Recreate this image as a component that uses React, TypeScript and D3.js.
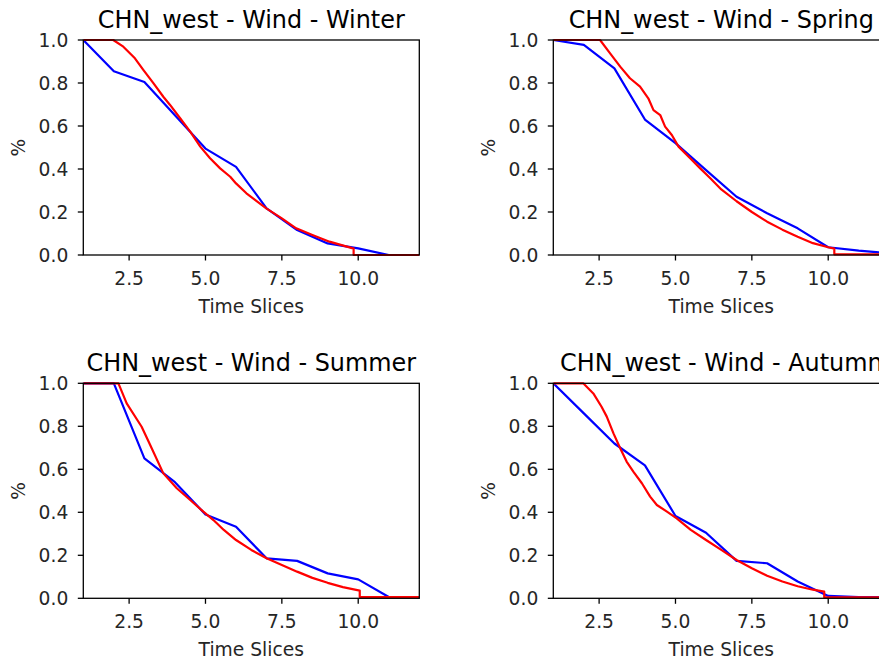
import React from "react";
import * as d3 from "d3";

const titles = [
  "CHN_west - Wind - Winter",
  "CHN_west - Wind - Spring",
  "CHN_west - Wind - Summer",
  "CHN_west - Wind - Autumn",
];

const xTicks = [2.5, 5.0, 7.5, 10.0];
const yTicks = [0, 0.2, 0.4, 0.6, 0.8, 1.0];
const xLabel = "Time Slices";
const yLabel = "%";

const blueX = [1, 2, 3, 4, 5, 6, 7, 8, 9, 10, 11, 12];
const winterBlue = [1.0, 0.855, 0.805, 0.65, 0.495, 0.41, 0.217, 0.116, 0.054, 0.031, 0.0, 0.0];
const springBlue = [1.0, 0.977, 0.868, 0.63, 0.52, 0.395, 0.271, 0.194, 0.124, 0.036, 0.02, 0.008];
const summerBlue = [1.0, 1.0, 0.651, 0.54, 0.39, 0.333, 0.186, 0.174, 0.116, 0.088, 0.006, 0.006];
const autumnBlue = [1.0, 0.86, 0.72, 0.618, 0.383, 0.305, 0.174, 0.163, 0.078, 0.011, 0.006, 0.005];

const winterRedX = [1, 1.98, 2.31, 2.69, 2.97, 3.3, 3.62, 3.84, 4.17, 4.5, 4.83, 5.15, 5.48, 5.81, 6, 6.34, 6.99, 7.5, 7.97, 8.5, 9.06, 9.8, 9.85, 9.85, 12];
const winterRedY = [1, 1, 0.969, 0.915, 0.86, 0.798, 0.736, 0.698, 0.636, 0.574, 0.504, 0.45, 0.403, 0.364, 0.333, 0.287, 0.217, 0.17, 0.124, 0.093, 0.062, 0.032, 0.031, 0.0, 0.0];

const springRedX = [1, 2.53, 2.86, 3.19, 3.51, 3.84, 4.11, 4.28, 4.5, 4.66, 4.88, 5.1, 5.48, 5.81, 6.14, 6.5, 7, 7.5, 8, 8.5, 9, 9.5, 10, 10.2, 10.2, 12];
const springRedY = [1, 1, 0.938, 0.876, 0.822, 0.783, 0.729, 0.674, 0.651, 0.597, 0.558, 0.504, 0.45, 0.403, 0.357, 0.305, 0.25, 0.2, 0.155, 0.118, 0.085, 0.055, 0.036, 0.03, 0.003, 0.003];

const summerRedX = [1, 2.15, 2.42, 2.91, 3.19, 3.62, 4.06, 4.5, 4.93, 5.26, 5.6, 6, 6.5, 7, 7.5, 8, 8.5, 9, 9.5, 10.05, 10.05, 12];
const summerRedY = [1, 1, 0.907, 0.798, 0.713, 0.581, 0.512, 0.457, 0.403, 0.364, 0.318, 0.271, 0.225, 0.186, 0.155, 0.124, 0.095, 0.072, 0.052, 0.036, 0.006, 0.006];

const autumnRedX = [1, 1.98, 2.31, 2.58, 2.75, 2.97, 3.19, 3.4, 3.62, 3.9, 4.17, 4.39, 4.72, 5.04, 5.5, 6, 6.5, 7, 7.5, 8, 8.5, 9, 9.5, 9.87, 9.87, 12];
const autumnRedY = [1, 1, 0.953, 0.891, 0.845, 0.767, 0.698, 0.636, 0.589, 0.535, 0.473, 0.434, 0.403, 0.372, 0.318, 0.271, 0.225, 0.178, 0.14, 0.105, 0.078, 0.056, 0.04, 0.031, 0.004, 0.004];

const blueSeries = [winterBlue, springBlue, summerBlue, autumnBlue];
const redXs = [winterRedX, springRedX, summerRedX, autumnRedX];
const redYs = [winterRedY, springRedY, summerRedY, autumnRedY];

const W = 879;
const H = 661;
const axLefts = [83.3, 553.3];
const axTops = [40, 383.3];
const axW = 336;
const axH = 215;
const FONT = "DejaVu Sans";

function Panel({ idx }: { idx: number }) {
  const left = axLefts[idx % 2];
  const top = axTops[Math.floor(idx / 2)];
  const x = d3.scaleLinear().domain([1, 12]).range([0, axW]);
  const y = d3.scaleLinear().domain([0, 1]).range([axH, 0]);
  const line = d3
    .line<[number, number]>()
    .x((d) => x(d[0]))
    .y((d) => y(d[1]));
  const blue: [number, number][] = blueX.map((v, i) => [v, blueSeries[idx][i]]);
  const red: [number, number][] = redXs[idx].map((v, i) => [v, redYs[idx][i]]);
  const clipId = `clip${idx}`;
  return (
    <g transform={`translate(${left},${top})`}>
      <defs>
        <clipPath id={clipId}>
          <rect x={0} y={-2} width={axW} height={axH + 4} />
        </clipPath>
      </defs>
      <text
        x={axW / 2}
        y={-12.5}
        textAnchor="middle"
        fontFamily={FONT}
        fontSize={23.9}
        fill="#000"
      >
        {titles[idx]}
      </text>
      <g clipPath={`url(#${clipId})`}>
        <path d={line(blue) || ""} fill="none" stroke="#0000ff" strokeWidth={2.2} strokeLinejoin="round" />
        <path d={line(red) || ""} fill="none" stroke="#ff0000" strokeWidth={2.2} strokeLinejoin="round" />
      </g>
      <rect x={0} y={0} width={axW} height={axH} fill="none" stroke="#000" strokeWidth={1.3} />
      {xTicks.map((t) => (
        <g key={t} transform={`translate(${x(t)},${axH})`}>
          <line y1={0} y2={5.5} stroke="#000" strokeWidth={1.3} />
          <text y={30} textAnchor="middle" fontFamily={FONT} fontSize={18.7} fill="#262626">
            {t.toFixed(1)}
          </text>
        </g>
      ))}
      {yTicks.map((t) => (
        <g key={t} transform={`translate(0,${y(t)})`}>
          <line x1={-5.5} x2={0} stroke="#000" strokeWidth={1.3} />
          <text x={-15} dy="0.36em" textAnchor="end" fontFamily={FONT} fontSize={18.7} fill="#262626">
            {t.toFixed(1)}
          </text>
        </g>
      ))}
      <text
        x={axW / 2}
        y={axH + 58}
        textAnchor="middle"
        fontFamily={FONT}
        fontSize={18.7}
        fill="#262626"
      >
        {xLabel}
      </text>
      <text
        transform={`translate(${-left + 18 + (idx % 2) * 470},${axH / 2}) rotate(-90)`}
        dy="0.36em"
        textAnchor="middle"
        fontFamily={FONT}
        fontSize={18.7}
        fill="#262626"
      >
        {yLabel}
      </text>
    </g>
  );
}

export default function App() {
  return (
    <svg
      width={W}
      height={H}
      style={{ position: "absolute", left: 0, top: 0, background: "#fff" }}
    >
      <rect width={W} height={H} fill="#fff" />
      {[0, 1, 2, 3].map((i) => (
        <Panel key={i} idx={i} />
      ))}
    </svg>
  );
}
